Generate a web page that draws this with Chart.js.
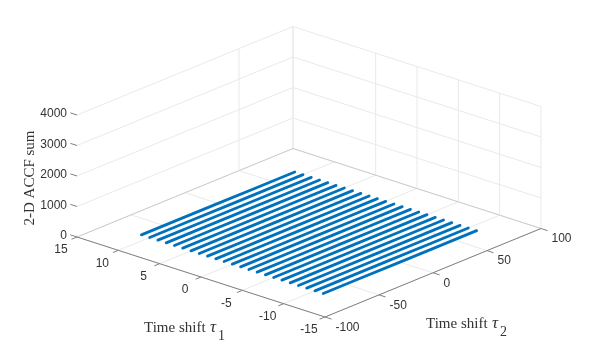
<!DOCTYPE html>
<html lang="en">
<head>
    <meta charset="UTF-8">
    <title>2-D ACCF sum</title>
    <script src="https://cdn.jsdelivr.net/npm/chart.js"></script>
    <style>
        body {
            margin: 0;
            padding: 0;
            background-color: #ffffff;
        }
        canvas {
            display: block;
        }
    </style>
</head>
<body>
    <canvas id="accfChart" width="598" height="355"></canvas>
    <script>
        // Values
        const tau1Ticks = [15, 10, 5, 0, -5, -10, -15];
        const tau2Ticks = [-100, -50, 0, 50, 100];
        const zTicks = [0, 1000, 2000, 3000, 4000];
        // the walls only show some of the vertical grid lines
        const tau1WallTicks = [15, 5, 0, -5, -10, -15];
        const tau2WallTicks = [50, 100];

        const tau1Lines = [11, 10, 9, 8, 7, 6, 5, 4, 3, 2, 1, 0, -1, -2, -3, -4, -5, -6, -7, -8, -9, -10, -11];
        const tau2Samples = [-71, -35, 0, 35, 71];
        const accfSum = [0, 0, 0, 0, 0];

        // 3-D view: where the box corners land on the page
        const origin = { x: 77, y: 237 };
        const tau1Step = { x: 248, y: 80 };
        const tau2Step = { x: 216, y: -88.5 };
        const zHeight = 122;

        function project(t1, t2, z) {
            const a = (15 - t1) / 30;
            const b = (t2 + 100) / 200;
            const c = z / 4000;
            return {
                x: origin.x + a * tau1Step.x + b * tau2Step.x,
                y: origin.y + a * tau1Step.y + b * tau2Step.y - c * zHeight
            };
        }

        function lineSet(data, color, width, order) {
            return {
                data: data,
                showLine: true,
                borderColor: color,
                borderWidth: width,
                pointRadius: 0,
                order: order
            };
        }

        const datasets = [];
        const gridColor = '#e9e9e9';
        const edgeColor = '#cccccc';
        const axisColor = '#808080';

        // floor grid
        tau1Ticks.forEach(t => {
            datasets.push(lineSet([project(t, -100, 0), project(t, 100, 0)], gridColor, 1, 5));
        });
        tau2Ticks.forEach(t => {
            datasets.push(lineSet([project(15, t, 0), project(-15, t, 0)], gridColor, 1, 5));
        });

        // wall grid
        zTicks.slice(1).forEach(z => {
            datasets.push(lineSet([project(15, -100, z), project(15, 100, z), project(-15, 100, z)], gridColor, 1, 5));
        });
        tau1WallTicks.forEach(t => {
            datasets.push(lineSet([project(t, 100, 0), project(t, 100, 4000)], gridColor, 1, 5));
        });
        tau2WallTicks.forEach(t => {
            datasets.push(lineSet([project(15, t, 0), project(15, t, 4000)], gridColor, 1, 5));
        });

        // back edges of the floor
        datasets.push(lineSet([project(15, -100, 0), project(15, 100, 0), project(-15, 100, 0)], edgeColor, 1, 4));

        // axes and their tick marks
        datasets.push(lineSet([project(15, -100, 0), project(-15, -100, 0), project(-15, 100, 0)], axisColor, 1, 3));
        tau1Ticks.forEach(t => {
            datasets.push(lineSet([project(t, -100, 0), project(t, -105, 0)], axisColor, 1, 3));
        });
        tau2Ticks.forEach(t => {
            datasets.push(lineSet([project(-15, t, 0), project(-15.8, t, 0)], axisColor, 1, 3));
        });
        zTicks.forEach(z => {
            datasets.push(lineSet([project(15, -100, z), project(15.8, -100, z)], axisColor, 1, 3));
        });

        // ACCF lines
        tau1Lines.forEach(t => {
            const points = tau2Samples.map((t2, i) => project(t, t2, accfSum[i]));
            const set = lineSet(points, '#0072BD', 2.8, 0);
            set.borderCapStyle = 'round';
            datasets.push(set);
        });

        const textColor = '#333333';
        const tickFont = '12px "Liberation Sans", Arial, sans-serif';
        const titleFont = '15px "Liberation Serif", "Times New Roman", serif';
        const tauFont = 'italic 17px "Liberation Serif", "Times New Roman", serif';
        const subFont = '14px "Liberation Serif", "Times New Roman", serif';

        // Chart.js has no 3-D axes, so the labels are placed through its scales
        const axisLabels = {
            id: 'axisLabels',
            afterDraw(chart) {
                const ctx = chart.ctx;
                const sx = chart.scales.x;
                const sy = chart.scales.y;
                const put = (text, p, dx, dy, font, align) => {
                    ctx.font = font;
                    ctx.textAlign = align;
                    ctx.fillText(text, sx.getPixelForValue(p.x) + dx, sy.getPixelForValue(p.y) + dy);
                };

                ctx.save();
                ctx.fillStyle = textColor;
                ctx.textBaseline = 'middle';

                zTicks.forEach(z => {
                    put(String(z), project(15, -100, z), -10, -1, tickFont, 'right');
                });
                tau1Ticks.forEach(t => {
                    put(String(t), project(t, -100, 0), -16, 13, tickFont, 'center');
                });
                tau2Ticks.forEach(t => {
                    put(String(t), project(-15, t, 0), 10.5, 10.5, tickFont, 'left');
                });

                put('Time shift', project(0, -100, 0), -57, 51, titleFont, 'left');
                put('\u03c4', project(0, -100, 0), 9, 51, tauFont, 'left');
                put('1', project(0, -100, 0), 17, 59, subFont, 'left');

                put('Time shift', project(-15, 0, 0), -7, 51, titleFont, 'left');
                put('\u03c4', project(-15, 0, 0), 59, 51, tauFont, 'left');
                put('2', project(-15, 0, 0), 67, 60, subFont, 'left');

                ctx.save();
                ctx.translate(sx.getPixelForValue(30), sy.getPixelForValue(178));
                ctx.rotate(-Math.PI / 2);
                ctx.font = titleFont;
                ctx.textAlign = 'center';
                ctx.fillText('2-D ACCF sum', 0, 0);
                ctx.restore();

                ctx.restore();
            }
        };

        new Chart(document.getElementById('accfChart').getContext('2d'), {
            type: 'scatter',
            data: { datasets: datasets },
            plugins: [axisLabels],
            options: {
                responsive: false,
                animation: false,
                layout: { padding: 0 },
                plugins: {
                    legend: { display: false },
                    tooltip: { enabled: false }
                },
                scales: {
                    x: { type: 'linear', display: false, min: 0, max: 598 },
                    y: { type: 'linear', display: false, min: 0, max: 355, reverse: true }
                }
            }
        });
    </script>
</body>
</html>
